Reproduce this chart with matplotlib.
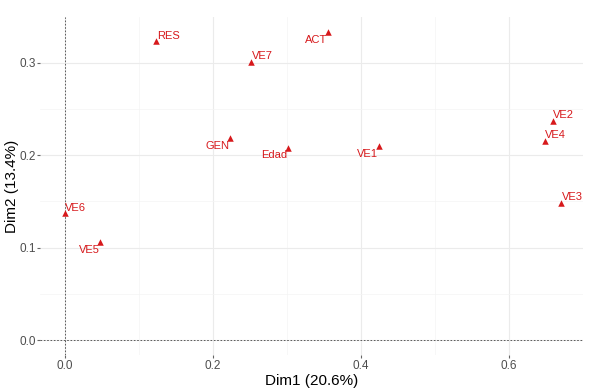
import matplotlib.pyplot as plt

plt.rcParams['font.family'] = ['Liberation Sans', 'DejaVu Sans']

names = ['RES', 'VE7', 'GEN', 'Edad', 'ACT', 'VE1', 'VE2', 'VE4', 'VE3', 'VE6', 'VE5']
dim1 = [0.124, 0.252, 0.224, 0.302, 0.355, 0.424, 0.659, 0.648, 0.670, 0.0, 0.048]
dim2 = [0.323, 0.301, 0.218, 0.208, 0.333, 0.210, 0.237, 0.215, 0.148, 0.137, 0.106]
# label side: 'ur' up-right, 'dl' down-left
sides = ['ur', 'ur', 'dl', 'dl', 'dl', 'dl', 'ur', 'ur', 'ur', 'ur', 'dl']

red = '#D7191C'

fig = plt.figure(figsize=(5.89, 3.9), dpi=100)
ax = fig.add_axes([0.068, 0.09, 0.922, 0.866])

ax.set_xlim(-0.033, 0.70)
ax.set_ylim(-0.016, 0.349)

ax.set_xticks([0.0, 0.2, 0.4, 0.6])
ax.set_yticks([0.0, 0.1, 0.2, 0.3])
ax.set_xticks([0.1, 0.3, 0.5], minor=True)
ax.set_yticks([0.05, 0.15, 0.25], minor=True)
ax.set_xticklabels(['0.0', '0.2', '0.4', '0.6'])
ax.set_yticklabels(['0.0', '0.1', '0.2', '0.3'])
ax.grid(which='major', color='#ebebeb', linewidth=0.8)
ax.grid(which='minor', color='#f4f4f4', linewidth=0.5)
ax.set_axisbelow(True)
for s in ax.spines.values():
    s.set_visible(False)
ax.tick_params(which='major', length=2, color='#666666', labelcolor='#4d4d4d',
               labelsize=8.5, pad=1)
ax.tick_params(axis='x', pad=2)
ax.tick_params(which='minor', length=0)

ax.axhline(0, color='#444444', linestyle=(0, (2, 2)), linewidth=0.6)
ax.axvline(0, color='#444444', linestyle=(0, (2, 2)), linewidth=0.6)

ax.scatter(dim1, dim2, marker='^', s=22, color=red, zorder=3, linewidths=0)

for n, x, y, sd in zip(names, dim1, dim2, sides):
    if sd == 'ur':
        ax.annotate(n, (x, y), xytext=(0.5, 0.5), textcoords='offset points',
                    ha='left', va='bottom', color=red, fontsize=8)
    else:
        ax.annotate(n, (x, y), xytext=(-0.5, -2), textcoords='offset points',
                    ha='right', va='top', color=red, fontsize=8)

ax.set_xlabel('Dim1 (20.6%)', fontsize=11, labelpad=1)
ax.set_ylabel('Dim2 (13.4%)', fontsize=11)
ax.yaxis.set_label_coords(-0.039, 0.5)

fig.savefig('out.png', dpi=100)
